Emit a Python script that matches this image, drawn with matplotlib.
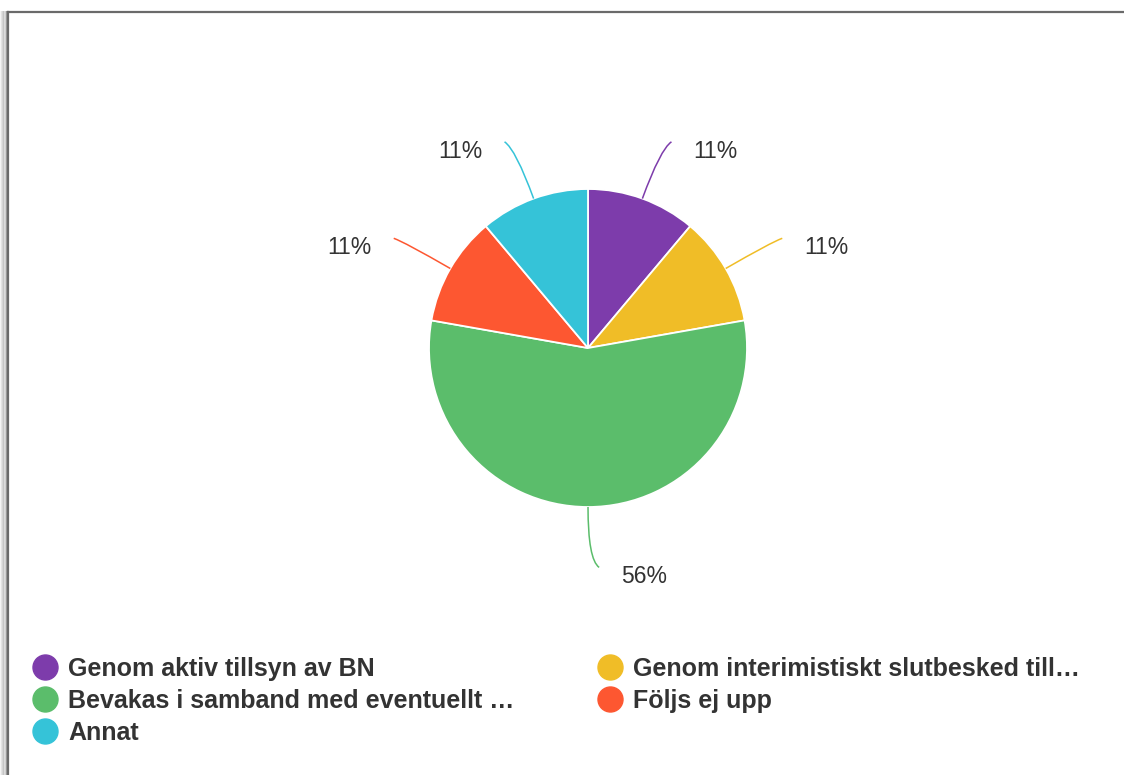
import matplotlib
matplotlib.use("Agg")
import matplotlib.pyplot as plt
import numpy as np
from matplotlib.lines import Line2D
from matplotlib.path import Path
from matplotlib.patches import PathPatch

plt.rcParams["font.family"] = ["Liberation Sans", "DejaVu Sans"]

labels = ["Genom aktiv tillsyn av BN",
          "Genom interimistiskt slutbesked till\u2026",
          "Bevakas i samband med eventuellt \u2026",
          "F\u00f6ljs ej upp",
          "Annat"]
counts = [1, 1, 5, 1, 1]
colors = ["#7d3cab", "#f0bd27", "#5bbd6b", "#fd5731", "#35c3d8"]
INK = "#333333"

W, H = 1124, 775
fig = plt.figure(figsize=(W / 100, H / 100), dpi=100)

# frame with soft shadow on the left/top
fx, fy = 8 / W, 1 - 12 / H
for i, a in enumerate([0.04, 0.07, 0.10, 0.14, 0.19, 0.25]):
    off = (6 - i) * 1.2
    fig.add_artist(Line2D([fx - off / W] * 2, [0, fy], color="black",
                          alpha=a, lw=1.4, transform=fig.transFigure))
fig.add_artist(Line2D([fx, fx], [0, fy], color="#6a6a6a", lw=1.6,
                      transform=fig.transFigure))
fig.add_artist(Line2D([fx, 1], [fy, fy], color="#6a6a6a", lw=1.6,
                      transform=fig.transFigure))

# pie axes: centre (588, 348) px, radius 159 px
cx, cy, R, half = 588, 348, 159, 300
ax = fig.add_axes([(cx - half) / W, (H - cy - half) / H, 2 * half / W, 2 * half / H])

wedges, _ = ax.pie(counts, colors=colors, startangle=90, counterclock=False,
                   radius=1, wedgeprops=dict(edgecolor="white", linewidth=1.3))
lim = half / R
ax.set_xlim(-lim, lim)
ax.set_ylim(-lim, lim)
ax.axis("off")

total = sum(counts)
for w, c, col in zip(wedges, counts, colors):
    th = np.deg2rad((w.theta1 + w.theta2) / 2)
    d = np.array([np.cos(th), np.sin(th)])
    s = 1 if d[0] >= -1e-3 else -1
    p0 = d * 1.0
    p1 = d * 1.33
    p2 = p1 + np.array([s * 0.07, d[1] * 0.05])
    path = Path([p0, p1, p2], [Path.MOVETO, Path.CURVE3, Path.CURVE3])
    ax.add_patch(PathPatch(path, fc="none", ec=col, lw=1.1, clip_on=False))
    ax.text(p2[0] + s * 0.14, p2[1] - 0.06, f"{c / total:.0%}",
            ha="left" if s > 0 else "right", va="center",
            fontsize=16.5, color=INK, clip_on=False)

handles = [Line2D([], [], ls="none", marker="o", ms=18, mfc=col, mec=col)
           for col in colors]
order = [0, 2, 4, 1, 3]
fig.legend([handles[i] for i in order], [labels[i] for i in order],
           loc="upper left", bbox_to_anchor=(32 / W, 1 - 657 / H),
           ncol=2, frameon=False, borderpad=0, borderaxespad=0,
           handlelength=1.03, handletextpad=0.42, labelspacing=0.31,
           columnspacing=3.3, prop=dict(size=18, weight="bold"),
           labelcolor=INK)

fig.savefig("out.png", dpi=100, facecolor="white")
